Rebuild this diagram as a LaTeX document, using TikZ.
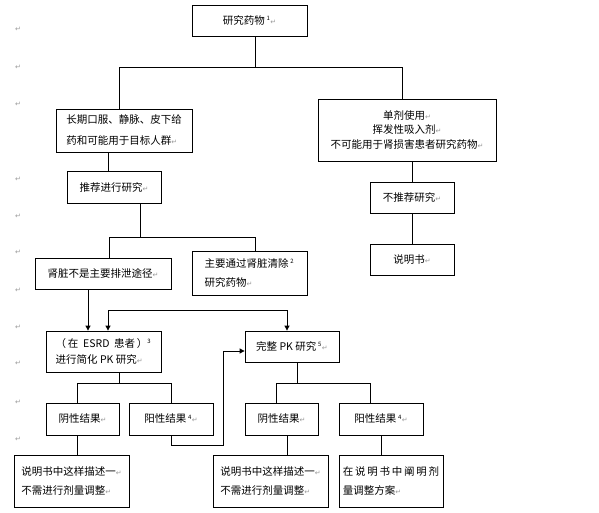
\documentclass[tikz,border=0pt]{standalone}
\usepackage{fontspec}
\newfontfamily\cjk{Noto Sans CJK SC}
\newfontfamily\symfont{DejaVu Sans}
\usetikzlibrary{arrows.meta}
\newcommand{\parmark}{{\symfont\fontsize{7}{7}\selectfont\textcolor{gray!80}{↵}}}
\newcommand{\noteref}[1]{\textsuperscript{\fontsize{6}{6}\selectfont #1}}
\begin{document}
\begin{tikzpicture}[x=1pt, y=-1pt, line width=0.8pt,
  box/.style={draw, inner sep=0pt, align=left, font=\cjk\fontsize{10.5}{20}\selectfont},
  flow/.style={-{Triangle[length=5pt,width=5pt]}},
  margin/.style={inner sep=0pt}]
  \useasboundingbox (0,0) rectangle (599,513);
  % paragraph marks in the left margin
  \foreach \y [count=\i] in {29,67,104,179,216,252,290,327,363,402,439}
    \node[margin] (m\i) at (18,\y) {\parmark};
  % first level
  \node[box, minimum width=115pt, minimum height=31pt] (drug) at (249.5,20.5) {研究药物\,\noteref{1}\parmark};
  \node[box, minimum width=136pt, minimum height=43pt, font=\cjk\fontsize{10.5}{21}\selectfont] (longuse) at (124,130.5)
    {长期口服、静脉、皮下给\\药和可能用于目标人群\parmark};
  \node[box, minimum width=178pt, minimum height=62pt, align=center, font=\cjk\fontsize{10.5}{14.5}\selectfont] (single) at (407,130)
    {单剂使用\parmark\\挥发性吸入剂\parmark\\不可能用于肾损害患者研究药物\parmark};
  % right branch
  \node[box, minimum width=84pt, minimum height=31pt] (notrec) at (412,197.5) {不推荐研究\parmark};
  \node[box, minimum width=84pt, minimum height=31pt] (leaflet) at (412,259.5) {说明书\parmark};
  % left branch
  \node[box, minimum width=94pt, minimum height=32pt] (recommend) at (114,187) {推荐进行研究\parmark};
  \node[box, minimum width=136pt, minimum height=31pt] (notmain) at (103,273.5) {肾脏不是主要排泄途径\parmark};
  \node[box, minimum width=115pt, minimum height=44pt, font=\cjk\fontsize{10.5}{19}\selectfont] (mainly) at (249.5,273)
    {主要通过肾脏清除\,\noteref{2}\\研究药物\parmark};
  \node[box, minimum width=115pt, minimum height=41pt, font=\cjk\fontsize{10.5}{16}\selectfont] (esrd) at (103.5,351.5)
    {（\,在\ \ ESRD\ \ 患者\,）\noteref{3}\\进行简化 PK 研究\parmark};
  \node[box, minimum width=94pt, minimum height=31pt] (fullpk) at (292,346.5) {完整 PK 研究\,\noteref{5}\parmark};
  % results
  \node[box, minimum width=73pt, minimum height=32pt] (neg1) at (82.5,419) {阴性结果\parmark};
  \node[box, minimum width=84pt, minimum height=32pt] (pos1) at (171,419) {阳性结果\,\noteref{4}\parmark};
  \node[box, minimum width=73pt, minimum height=32pt] (neg2) at (281.5,419) {阴性结果\parmark};
  \node[box, minimum width=84pt, minimum height=32pt] (pos2) at (381,419) {阳性结果\,\noteref{4}\parmark};
  \node[box, minimum width=115pt, minimum height=52pt, font=\cjk\fontsize{10.5}{19.5}\selectfont] (sum1) at (71.5,481)
    {说明书中这样描述一\parmark\\不需进行剂量调整\parmark};
  \node[box, minimum width=115pt, minimum height=52pt, font=\cjk\fontsize{10.5}{19.5}\selectfont] (sum2) at (270.5,481)
    {说明书中这样描述一\parmark\\不需进行剂量调整\parmark};
  \node[box, minimum width=104pt, minimum height=52pt, font=\cjk\fontsize{10.5}{19.5}\selectfont] (plan) at (391,481)
    {在\,说\,明\,书\,中\,阐\,明\,剂\\量调整方案\parmark};
  % junctions
  \coordinate (j1) at (255,67);
  \coordinate (j1l) at (119,67);
  \coordinate (j1r) at (402,67);
  \coordinate (j2) at (108,160);
  \coordinate (j3) at (140,237);
  \coordinate (j3l) at (109,237);
  \coordinate (j3r) at (255,237);
  \coordinate (j5) at (88,300);
  \coordinate (j6l) at (108,310);
  \coordinate (j6r) at (287,310);
  \coordinate (j7) at (119,383);
  \coordinate (j7l) at (77,383);
  \coordinate (j7r) at (171,383);
  \coordinate (j9) at (223,445);
  \coordinate (j10) at (297,383);
  \coordinate (j10l) at (276,383);
  \coordinate (j10r) at (370,383);
  \coordinate (j11) at (287,445);
  \coordinate (j12) at (381,445);
  % connectors
  \draw (drug.south -| j1) -- (j1);
  \draw (longuse.north -| j1l) -- (j1l) -- (j1r) -- (single.north -| j1r);
  \draw (single.south -| notrec) -- (notrec.north);
  \draw (notrec.south) -- (leaflet.north);
  \draw (longuse.south -| j2) -- (recommend.north -| j2);
  \draw (recommend.south -| j3) -- (j3);
  \draw (notmain.north -| j3l) -- (j3l) -- (j3r) -- (mainly.north -| j3r);
  \draw[flow] (notmain.south -| j5) -- (esrd.north -| j5);
  \draw[{Triangle[length=5pt,width=5pt]}-{Triangle[length=5pt,width=5pt]}] (esrd.north -| j6l) -- (j6l) -- (j6r) -- (fullpk.north -| j6r);
  \draw (esrd.south -| j7) -- (j7);
  \draw (neg1.north -| j7l) -- (j7l) -- (j7r) -- (pos1.north -| j7r);
  \draw (neg1.south -| j7l) -- (sum1.north -| j7l);
  \draw[flow] (pos1.south -| j7r) |- (j9) |- ([yshift=-4.5pt]fullpk.west);
  \draw (fullpk.south -| j10) -- (j10);
  \draw (neg2.north -| j10l) -- (j10l) -- (j10r) -- (pos2.north -| j10r);
  \draw (neg2.south -| j11) -- (sum2.north -| j11);
  \draw (pos2.south -| j12) -- (plan.north -| j12);
\end{tikzpicture}
\end{document}
